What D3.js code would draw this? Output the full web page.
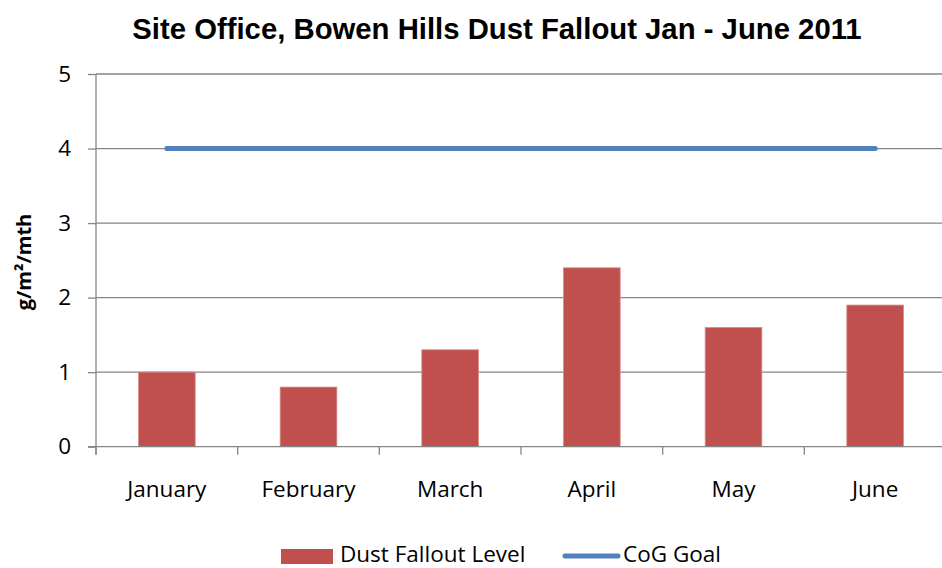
<!DOCTYPE html>
<html>
<head>
<meta charset="utf-8">
<script src="https://cdn.jsdelivr.net/npm/d3@7"></script>
<style>
  body { margin: 0; background: #fff; }
  svg { display: block; }
</style>
</head>
<body>
<div id="chart"></div>
<script>
/* DATA */
const months = ["January", "February", "March", "April", "May", "June"];
const dustLevel = [1.0, 0.8, 1.3, 2.4, 1.6, 1.9];
const cogGoal = [4, 4, 4, 4, 4, 4];
const yTicks = [0, 1, 2, 3, 4, 5];

const width = 942, height = 568;
const plot = { left: 96, right: 946, top: 74, bottom: 446.7 };
const barColor = "#C0504D", lineColor = "#4F81BD", gridColor = "#868686";
const labelFont = "'Open Sans', sans-serif";
const labelSize = 22.5;

const svg = d3.select("#chart").append("svg")
  .attr("width", width)
  .attr("height", height);

// scales
const xScale = d3.scaleBand()
  .domain(months)
  .range([plot.left, plot.right])
  .paddingInner(0.6)
  .paddingOuter(0.3);

const xPoint = d3.scalePoint()
  .domain(months)
  .range([plot.left, plot.right])
  .padding(0.5);

const yScale = d3.scaleLinear()
  .domain([0, 5])
  .range([plot.bottom, plot.top]);

// gridlines
svg.append("g")
  .selectAll("line")
  .data(yTicks.filter(d => d > 0))
  .join("line")
  .attr("x1", plot.left)
  .attr("x2", plot.right)
  .attr("y1", d => yScale(d))
  .attr("y2", d => yScale(d))
  .attr("stroke", gridColor)
  .attr("stroke-width", 1.3);

// y axis
const yAxis = d3.axisLeft(yScale).tickValues(yTicks).tickFormat(d3.format("d")).tickSize(8).tickPadding(17);
const yAxisGroup = svg.append("g")
  .attr("transform", `translate(${plot.left},0)`)
  .call(yAxis);
yAxisGroup.select(".domain").remove();
yAxisGroup.selectAll(".tick line").attr("stroke", gridColor).attr("stroke-width", 1.3);
yAxisGroup.selectAll(".tick text")
  .attr("font-family", labelFont)
  .attr("font-size", labelSize)
  .attr("fill", "#000");
yAxisGroup.append("line")
  .attr("x1", 0).attr("x2", 0)
  .attr("y1", plot.top).attr("y2", plot.bottom + 8)
  .attr("stroke", gridColor)
  .attr("stroke-width", 1.3);

// bars
svg.append("g")
  .selectAll("rect")
  .data(dustLevel)
  .join("rect")
  .attr("x", (d, i) => xScale(months[i]))
  .attr("y", d => yScale(d))
  .attr("width", xScale.bandwidth())
  .attr("height", d => plot.bottom - yScale(d))
  .attr("fill", barColor)
  .attr("stroke", "#d98a88")
  .attr("stroke-width", 0.8);

// x axis
const xAxisGroup = svg.append("g")
  .attr("transform", `translate(0,${plot.bottom})`);
xAxisGroup.append("line")
  .attr("x1", plot.left - 8).attr("x2", plot.right)
  .attr("stroke", gridColor)
  .attr("stroke-width", 1.3);
const step = xPoint.step();
xAxisGroup.selectAll("line.tk")
  .data(months)
  .join("line")
  .attr("class", "tk")
  .attr("x1", d => xPoint(d) - step / 2)
  .attr("x2", d => xPoint(d) - step / 2)
  .attr("y1", 0).attr("y2", 8)
  .attr("stroke", gridColor)
  .attr("stroke-width", 1.3);
xAxisGroup.selectAll("text")
  .data(months)
  .join("text")
  .attr("x", d => xPoint(d))
  .attr("y", 50.5)
  .attr("text-anchor", "middle")
  .attr("font-family", labelFont)
  .attr("font-size", labelSize)
  .text(d => d);

// goal line
const lineGen = d3.line()
  .x((d, i) => xPoint(months[i]))
  .y(d => yScale(d));
svg.append("path")
  .datum(cogGoal)
  .attr("d", lineGen)
  .attr("fill", "none")
  .attr("stroke", lineColor)
  .attr("stroke-width", 5)
  .attr("stroke-linecap", "round");

// title
svg.append("text")
  .attr("x", 497)
  .attr("y", 38.5)
  .attr("text-anchor", "middle")
  .attr("font-family", "'Liberation Sans', Arial, sans-serif")
  .attr("font-weight", "bold")
  .attr("font-size", 29.3)
  .text("Site Office, Bowen Hills Dust Fallout Jan - June 2011");

// y label
svg.append("text")
  .attr("transform", `translate(31,262) rotate(-90)`)
  .attr("text-anchor", "middle")
  .attr("font-family", labelFont)
  .attr("font-weight", "bold")
  .attr("font-size", 20)
  .text("g/m²/mth");

// legend
const legend = svg.append("g");
legend.append("rect")
  .attr("x", 281).attr("y", 549)
  .attr("width", 52).attr("height", 15)
  .attr("fill", barColor);
legend.append("text")
  .attr("x", 340).attr("y", 562)
  .attr("font-family", labelFont)
  .attr("font-size", labelSize)
  .text("Dust Fallout Level");
legend.append("line")
  .attr("x1", 565).attr("x2", 618)
  .attr("y1", 556).attr("y2", 556)
  .attr("stroke", lineColor)
  .attr("stroke-width", 5)
  .attr("stroke-linecap", "round");
legend.append("text")
  .attr("x", 623).attr("y", 562)
  .attr("font-family", labelFont)
  .attr("font-size", labelSize)
  .text("CoG Goal");
</script>
</body>
</html>
